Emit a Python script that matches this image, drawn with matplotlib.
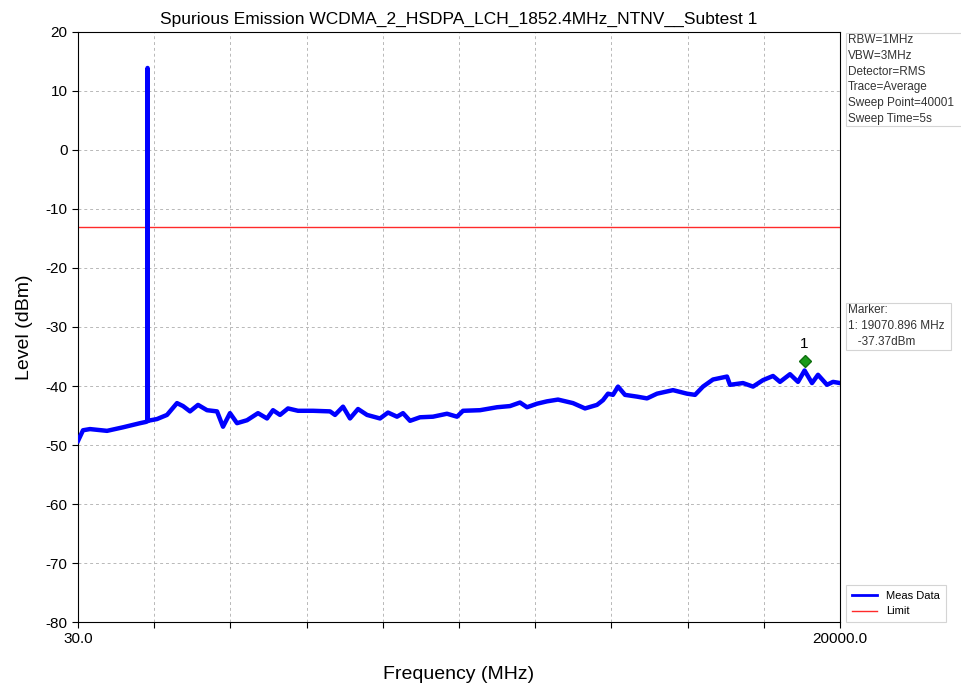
import numpy as np
import matplotlib
matplotlib.use('Agg')
import matplotlib.pyplot as plt
from matplotlib.patches import Rectangle
from matplotlib.transforms import offset_copy

plt.rcParams['font.family'] = ['Liberation Sans', 'DejaVu Sans']
plt.rcParams['axes.unicode_minus'] = False

freq_mhz = [30, 161, 344, 790, 1209, 1655, 1800, 1845, 1852.4, 1860, 2100, 2362,
            2624, 2782, 2965, 3175, 3411, 3673, 3830, 4013, 4197, 4459, 4747,
            4983, 5140, 5324, 5533, 5795, 6189, 6634, 6765, 6975, 7158, 7368,
            7604, 7944, 8154, 8390, 8547, 8731, 8993, 9333, 9700, 9962, 10120,
            10565, 11011, 11351, 11613, 11797, 12059, 12321, 12609, 13002,
            13317, 13631, 13788, 13919, 14050, 14182, 14365, 14680, 14942,
            15204, 15623, 15990, 16200, 16409, 16671, 17038, 17117, 17457,
            17720, 17982, 18244, 18427, 18689, 18899, 19071, 19266, 19423,
            19659, 19816, 20000]
level_dbm = [-49.3, -47.5, -47.3, -47.6, -47.0, -46.3, -46.1, -46.0, 13.9, -45.9,
             -45.6, -44.9, -42.9, -43.4, -44.3, -43.2, -44.1, -44.3, -46.9, -44.6,
             -46.3, -45.8, -44.6, -45.5, -44.1, -44.9, -43.8, -44.2, -44.2,
             -44.3, -44.9, -43.5, -45.5, -43.9, -44.9, -45.5, -44.5, -45.2,
             -44.6, -45.9, -45.3, -45.2, -44.7, -45.2, -44.2, -44.1, -43.6,
             -43.4, -42.8, -43.6, -43.0, -42.6, -42.3, -42.9, -43.8, -43.2,
             -42.4, -41.3, -41.5, -40.1, -41.5, -41.8, -42.1, -41.3, -40.7,
             -41.3, -41.5, -40.1, -38.9, -38.4, -39.8, -39.5, -40.1, -39.0,
             -38.3, -39.3, -38.0, -39.3, -37.37, -39.5, -38.1, -39.8, -39.3,
             -39.5]

limit_dbm = -13.0
marker_freq = 19070.896
marker_level = -37.37

x_min, x_max = 30.0, 20000.0
y_ticks = list(range(-80, 21, 10))

info_lines = ["RBW=1MHz", "VBW=3MHz", "Detector=RMS", "Trace=Average",
              "Sweep Point=40001", "Sweep Time=5s"]

W, H = 962, 689


def px_box(x0, y0, x1, y1):
    # figure-pixel rectangle (top-left origin) -> figure fraction patch
    return Rectangle((x0 / W, 1 - y1 / H), (x1 - x0) / W, (y1 - y0) / H,
                     transform=fig.transFigure, fc='white', ec='#d4d4d4',
                     lw=0.8, zorder=0)


fig = plt.figure(figsize=(9.62, 6.89), dpi=100)
ax = fig.add_axes([0.0811, 0.0972, 0.7921, 0.8564])

ax.plot(freq_mhz, level_dbm, color='#0000ff', lw=3.2, label='Meas Data', zorder=3)
ax.plot([x_min, x_max], [limit_dbm, limit_dbm], color='#ff2a2a', lw=1.0,
        label='Limit', zorder=2)

# marker 1
trans = offset_copy(ax.transData, fig=fig, x=0, y=7, units='points')
ax.plot([marker_freq], [marker_level], marker='D', ms=6, color='#1a9a1a',
        mec='#0f6f0f', transform=trans, zorder=4)
ax.annotate('1', xy=(marker_freq, marker_level), xytext=(0, 14),
            textcoords='offset points', ha='center', va='bottom', fontsize=11)

ax.set_xlim(x_min, x_max)
ax.set_ylim(-80, 20)
xt = np.linspace(x_min, x_max, 11)
ax.set_xticks(xt)
ax.set_xticklabels(['30.0'] + [''] * 9 + ['20000.0'])
ax.set_yticks(y_ticks)
ax.tick_params(axis='both', direction='out', length=4, labelsize=11)
ax.grid(True, ls=(0, (3, 3)), color='#b8b8b8', lw=0.7)
ax.set_axisbelow(True)

ax.set_title('Spurious Emission WCDMA_2_HSDPA_LCH_1852.4MHz_NTNV__Subtest 1',
             fontsize=12.5, pad=6)
ax.set_xlabel('Frequency (MHz)', fontsize=14, labelpad=14)
ax.set_ylabel('Level (dBm)', fontsize=14, labelpad=9)

# side panels
fig.add_artist(px_box(846, 33, 966, 126))
fig.add_artist(px_box(846, 303, 951, 350))
fig.text(848 / W, 1 - 34 / H, '\n'.join(info_lines), fontsize=8.5,
         color='#333333', va='top', ha='left', linespacing=1.42)
fig.text(848 / W, 1 - 304 / H,
         'Marker:\n1: %.3f MHz\n   %.2fdBm' % (marker_freq, marker_level),
         fontsize=8.5, color='#333333', va='top', ha='left', linespacing=1.42)

leg = ax.legend(loc='lower left', bbox_to_anchor=(1.008, 0.0), borderaxespad=0,
                fontsize=8, handlelength=2.3, framealpha=1, fancybox=False,
                borderpad=0.5)
leg.get_frame().set_edgecolor('#d4d4d4')
leg.get_frame().set_linewidth(0.8)
leg.get_lines()[0].set_linewidth(2)

fig.savefig('out.png', dpi=100)
